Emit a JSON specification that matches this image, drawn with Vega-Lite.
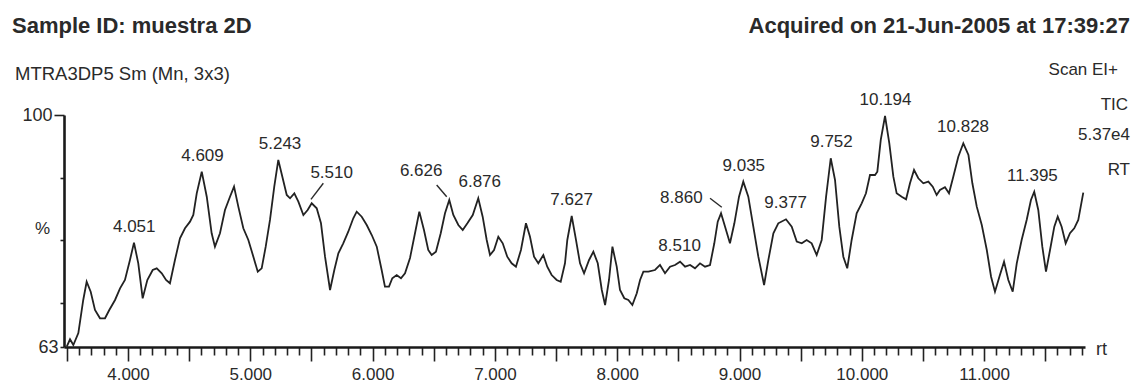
{
  "$schema": "https://vega.github.io/schema/vega-lite/v6.json",
  "width": 1021,
  "height": 232,
  "autosize": "none",
  "padding": {"left": 64, "top": 115, "right": 52, "bottom": 41},
  "background": "#ffffff",
  "config": {
    "view": {"stroke": null},
    "font": "Liberation Sans, Arial, sans-serif",
    "text": {"font": "Liberation Sans, Arial, sans-serif", "color": "#2a2a2a"}
  },
  "datasets": {
    "trace": [
      {"rt": 3.499, "pct": 63.05}, {"rt": 3.526, "pct": 64.23}, {"rt": 3.553, "pct": 63.32}, {"rt": 3.594, "pct": 65.23},
      {"rt": 3.634, "pct": 70.50}, {"rt": 3.662, "pct": 73.41}, {"rt": 3.695, "pct": 71.82}, {"rt": 3.730, "pct": 68.90},
      {"rt": 3.771, "pct": 67.58}, {"rt": 3.812, "pct": 67.58}, {"rt": 3.847, "pct": 68.90}, {"rt": 3.894, "pct": 70.50},
      {"rt": 3.935, "pct": 72.36}, {"rt": 3.975, "pct": 73.69}, {"rt": 4.016, "pct": 76.88}, {"rt": 4.049, "pct": 79.64},
      {"rt": 4.084, "pct": 76.35}, {"rt": 4.120, "pct": 70.77}, {"rt": 4.158, "pct": 73.69}, {"rt": 4.202, "pct": 75.28},
      {"rt": 4.235, "pct": 75.55}, {"rt": 4.276, "pct": 74.76}, {"rt": 4.311, "pct": 73.69}, {"rt": 4.343, "pct": 73.16},
      {"rt": 4.384, "pct": 76.88}, {"rt": 4.425, "pct": 80.34}, {"rt": 4.466, "pct": 81.93}, {"rt": 4.507, "pct": 82.99},
      {"rt": 4.534, "pct": 84.05}, {"rt": 4.562, "pct": 87.51}, {"rt": 4.603, "pct": 90.96}, {"rt": 4.644, "pct": 86.97},
      {"rt": 4.684, "pct": 81.14}, {"rt": 4.711, "pct": 79.00}, {"rt": 4.752, "pct": 81.14}, {"rt": 4.793, "pct": 84.85},
      {"rt": 4.834, "pct": 86.97}, {"rt": 4.867, "pct": 88.57}, {"rt": 4.902, "pct": 85.38}, {"rt": 4.943, "pct": 81.93},
      {"rt": 4.984, "pct": 80.07}, {"rt": 5.025, "pct": 77.40}, {"rt": 5.061, "pct": 75.01}, {"rt": 5.093, "pct": 75.55},
      {"rt": 5.126, "pct": 79.00}, {"rt": 5.161, "pct": 83.26}, {"rt": 5.196, "pct": 88.57}, {"rt": 5.229, "pct": 92.83},
      {"rt": 5.262, "pct": 90.16}, {"rt": 5.298, "pct": 87.24}, {"rt": 5.325, "pct": 86.72}, {"rt": 5.360, "pct": 87.51},
      {"rt": 5.393, "pct": 86.17}, {"rt": 5.434, "pct": 84.05}, {"rt": 5.469, "pct": 84.85}, {"rt": 5.502, "pct": 85.92},
      {"rt": 5.543, "pct": 85.12}, {"rt": 5.578, "pct": 82.73}, {"rt": 5.611, "pct": 77.40}, {"rt": 5.652, "pct": 72.09},
      {"rt": 5.687, "pct": 75.28}, {"rt": 5.720, "pct": 77.94}, {"rt": 5.760, "pct": 79.54}, {"rt": 5.801, "pct": 81.39},
      {"rt": 5.842, "pct": 83.53}, {"rt": 5.870, "pct": 84.58}, {"rt": 5.911, "pct": 83.78}, {"rt": 5.952, "pct": 82.46},
      {"rt": 5.993, "pct": 80.86}, {"rt": 6.034, "pct": 79.00}, {"rt": 6.074, "pct": 75.28}, {"rt": 6.101, "pct": 72.62},
      {"rt": 6.134, "pct": 72.62}, {"rt": 6.161, "pct": 73.96}, {"rt": 6.197, "pct": 74.48}, {"rt": 6.232, "pct": 73.96},
      {"rt": 6.265, "pct": 74.76}, {"rt": 6.306, "pct": 77.20}, {"rt": 6.347, "pct": 81.18}, {"rt": 6.382, "pct": 84.58},
      {"rt": 6.420, "pct": 81.66}, {"rt": 6.455, "pct": 78.47}, {"rt": 6.483, "pct": 77.67}, {"rt": 6.518, "pct": 78.20},
      {"rt": 6.557, "pct": 81.14}, {"rt": 6.592, "pct": 84.32}, {"rt": 6.627, "pct": 86.45}, {"rt": 6.660, "pct": 84.05},
      {"rt": 6.701, "pct": 82.46}, {"rt": 6.737, "pct": 81.66}, {"rt": 6.775, "pct": 82.73}, {"rt": 6.819, "pct": 84.05},
      {"rt": 6.864, "pct": 86.72}, {"rt": 6.900, "pct": 83.78}, {"rt": 6.933, "pct": 80.07}, {"rt": 6.960, "pct": 77.67},
      {"rt": 6.993, "pct": 78.47}, {"rt": 7.028, "pct": 80.59}, {"rt": 7.064, "pct": 79.54}, {"rt": 7.101, "pct": 77.40},
      {"rt": 7.137, "pct": 76.35}, {"rt": 7.172, "pct": 75.81}, {"rt": 7.213, "pct": 78.47}, {"rt": 7.254, "pct": 82.73},
      {"rt": 7.287, "pct": 80.59}, {"rt": 7.320, "pct": 77.40}, {"rt": 7.355, "pct": 76.35}, {"rt": 7.396, "pct": 77.67},
      {"rt": 7.428, "pct": 75.81}, {"rt": 7.464, "pct": 74.48}, {"rt": 7.505, "pct": 73.69}, {"rt": 7.538, "pct": 73.41},
      {"rt": 7.573, "pct": 76.35}, {"rt": 7.592, "pct": 80.07}, {"rt": 7.628, "pct": 83.89}, {"rt": 7.663, "pct": 80.07},
      {"rt": 7.696, "pct": 76.35}, {"rt": 7.729, "pct": 74.76}, {"rt": 7.770, "pct": 76.88}, {"rt": 7.805, "pct": 78.20},
      {"rt": 7.841, "pct": 76.35}, {"rt": 7.874, "pct": 72.09}, {"rt": 7.901, "pct": 69.70}, {"rt": 7.933, "pct": 73.69},
      {"rt": 7.961, "pct": 79.00}, {"rt": 7.996, "pct": 75.81}, {"rt": 8.023, "pct": 72.09}, {"rt": 8.058, "pct": 70.77},
      {"rt": 8.091, "pct": 70.50}, {"rt": 8.124, "pct": 69.70}, {"rt": 8.160, "pct": 71.57}, {"rt": 8.187, "pct": 73.69},
      {"rt": 8.214, "pct": 75.01}, {"rt": 8.255, "pct": 75.01}, {"rt": 8.309, "pct": 75.28}, {"rt": 8.350, "pct": 76.08},
      {"rt": 8.391, "pct": 74.76}, {"rt": 8.432, "pct": 75.81}, {"rt": 8.473, "pct": 76.08}, {"rt": 8.514, "pct": 76.61},
      {"rt": 8.555, "pct": 75.81}, {"rt": 8.596, "pct": 76.08}, {"rt": 8.636, "pct": 75.55}, {"rt": 8.677, "pct": 76.35},
      {"rt": 8.718, "pct": 75.81}, {"rt": 8.759, "pct": 76.08}, {"rt": 8.794, "pct": 79.54}, {"rt": 8.822, "pct": 82.99},
      {"rt": 8.849, "pct": 84.32}, {"rt": 8.882, "pct": 82.19}, {"rt": 8.922, "pct": 79.54}, {"rt": 8.958, "pct": 82.73},
      {"rt": 8.996, "pct": 86.97}, {"rt": 9.031, "pct": 89.37}, {"rt": 9.072, "pct": 86.97}, {"rt": 9.113, "pct": 82.19},
      {"rt": 9.154, "pct": 77.40}, {"rt": 9.201, "pct": 72.89}, {"rt": 9.236, "pct": 76.88}, {"rt": 9.277, "pct": 81.14},
      {"rt": 9.317, "pct": 82.73}, {"rt": 9.380, "pct": 83.37}, {"rt": 9.427, "pct": 82.19}, {"rt": 9.468, "pct": 79.80},
      {"rt": 9.509, "pct": 79.54}, {"rt": 9.549, "pct": 80.07}, {"rt": 9.590, "pct": 79.54}, {"rt": 9.631, "pct": 77.67},
      {"rt": 9.672, "pct": 80.07}, {"rt": 9.708, "pct": 86.97}, {"rt": 9.746, "pct": 93.10}, {"rt": 9.781, "pct": 89.64},
      {"rt": 9.816, "pct": 82.19}, {"rt": 9.849, "pct": 77.40}, {"rt": 9.881, "pct": 75.55}, {"rt": 9.917, "pct": 80.07},
      {"rt": 9.958, "pct": 84.32}, {"rt": 9.999, "pct": 85.92}, {"rt": 10.034, "pct": 87.51}, {"rt": 10.067, "pct": 90.43},
      {"rt": 10.108, "pct": 90.43}, {"rt": 10.127, "pct": 90.96}, {"rt": 10.155, "pct": 96.02}, {"rt": 10.190, "pct": 99.84},
      {"rt": 10.225, "pct": 95.49}, {"rt": 10.258, "pct": 90.16}, {"rt": 10.285, "pct": 87.51}, {"rt": 10.326, "pct": 86.97},
      {"rt": 10.362, "pct": 86.56}, {"rt": 10.394, "pct": 89.11}, {"rt": 10.427, "pct": 91.23}, {"rt": 10.462, "pct": 89.91},
      {"rt": 10.503, "pct": 89.11}, {"rt": 10.544, "pct": 89.37}, {"rt": 10.580, "pct": 88.57}, {"rt": 10.612, "pct": 87.24},
      {"rt": 10.639, "pct": 88.04}, {"rt": 10.680, "pct": 88.47}, {"rt": 10.713, "pct": 87.51}, {"rt": 10.748, "pct": 90.16},
      {"rt": 10.789, "pct": 93.35}, {"rt": 10.830, "pct": 95.49}, {"rt": 10.872, "pct": 93.62}, {"rt": 10.904, "pct": 89.11},
      {"rt": 10.940, "pct": 85.38}, {"rt": 10.981, "pct": 82.46}, {"rt": 11.022, "pct": 78.47}, {"rt": 11.057, "pct": 74.21},
      {"rt": 11.089, "pct": 71.82}, {"rt": 11.125, "pct": 74.21}, {"rt": 11.163, "pct": 76.61}, {"rt": 11.198, "pct": 73.69},
      {"rt": 11.234, "pct": 71.82}, {"rt": 11.267, "pct": 76.35}, {"rt": 11.307, "pct": 80.07}, {"rt": 11.348, "pct": 83.26},
      {"rt": 11.383, "pct": 86.45}, {"rt": 11.410, "pct": 87.77}, {"rt": 11.443, "pct": 84.85}, {"rt": 11.476, "pct": 79.00},
      {"rt": 11.506, "pct": 75.01}, {"rt": 11.539, "pct": 78.47}, {"rt": 11.574, "pct": 82.19}, {"rt": 11.602, "pct": 83.78},
      {"rt": 11.634, "pct": 82.19}, {"rt": 11.667, "pct": 79.54}, {"rt": 11.702, "pct": 81.14}, {"rt": 11.737, "pct": 81.93},
      {"rt": 11.770, "pct": 83.26}, {"rt": 11.811, "pct": 87.61}
    ],
    "peaks": [
      {"rt": 4.051, "pct": 79.64, "label": "4.051"},
      {"rt": 4.609, "pct": 90.96, "label": "4.609"},
      {"rt": 5.243, "pct": 92.83, "label": "5.243"},
      {"rt": 5.510, "pct": 85.92, "label": "5.510"},
      {"rt": 6.626, "pct": 86.45, "label": "6.626"},
      {"rt": 6.876, "pct": 86.72, "label": "6.876"},
      {"rt": 7.627, "pct": 83.89, "label": "7.627"},
      {"rt": 8.510, "pct": 76.61, "label": "8.510"},
      {"rt": 8.860, "pct": 84.32, "label": "8.860"},
      {"rt": 9.035, "pct": 89.37, "label": "9.035"},
      {"rt": 9.377, "pct": 83.37, "label": "9.377"},
      {"rt": 9.752, "pct": 93.10, "label": "9.752"},
      {"rt": 10.194, "pct": 99.84, "label": "10.194"},
      {"rt": 10.828, "pct": 95.49, "label": "10.828"},
      {"rt": 11.395, "pct": 87.77, "label": "11.395"}
    ],
    "leaders": [
      {"rt": 5.496, "pct": 86.55, "rt2": 5.597, "pct2": 89.11},
      {"rt": 6.524, "pct": 88.84, "rt2": 6.606, "pct2": 86.97},
      {"rt": 8.759, "pct": 86.72, "rt2": 8.855, "pct2": 85.28}
    ]
  },
  "layer": [
    {
      "data": {"name": "trace"},
      "mark": {"type": "line", "color": "#222222", "strokeWidth": 1.8, "clip": true},
      "encoding": {
        "x": {
          "field": "rt", "type": "quantitative",
          "scale": {"domain": [3.4767, 11.825], "nice": false, "zero": false},
          "axis": {
            "values": [3.5,3.6,3.7,3.8,3.9,4,4.1,4.2,4.3,4.4,4.5,4.6,4.7,4.8,4.9,5,5.1,5.2,5.3,5.4,5.5,5.6,5.7,5.8,5.9,6,6.1,6.2,6.3,6.4,6.5,6.6,6.7,6.8,6.9,7,7.1,7.2,7.3,7.4,7.5,7.6,7.7,7.8,7.9,8,8.1,8.2,8.3,8.4,8.5,8.6,8.7,8.8,8.9,9,9.1,9.2,9.3,9.4,9.5,9.6,9.7,9.8,9.9,10,10.1,10.2,10.3,10.4,10.5,10.6,10.7,10.8,10.9,11,11.1,11.2,11.3,11.4,11.5,11.6,11.7,11.8],
            "tickCount": 500,
            "labelExpr": "abs(datum.value - round(datum.value)) < 0.001 ? format(datum.value, '.3f') : ''",
            "tickSize": 14,
            "tickDash": {"condition": {"test": "abs(datum.value * 2 - round(datum.value * 2)) < 0.01", "value": [30, 0]}, "value": [8, 40]},
            "tickWidth": 1.6,
            "tickColor": "#222",
            "domainColor": "#1a1a1a",
            "domainWidth": 2.6,
            "grid": false,
            "labelOverlap": false,
            "labelFlush": false,
            "labelFontSize": 17,
            "labelColor": "#2a2a2a",
            "labelPadding": 5,
            "title": "rt",
            "titleFontSize": 18,
            "titleFontWeight": "normal",
            "titleColor": "#2a2a2a",
            "titleAlign": "center",
            "titleBaseline": "middle",
            "titleX": 1037,
            "titleY": 2
          }
        },
        "y": {
          "field": "pct", "type": "quantitative",
          "scale": {"domain": [63, 100], "nice": false, "zero": false},
          "axis": {
            "values": [63, 70, 80, 90, 100],
            "tickCount": 50,
            "labelExpr": "datum.value == 63 || datum.value == 100 ? datum.label : ''",
            "tickSize": {"condition": {"test": "datum.value == 100", "value": 10}, "value": 4},
            "tickWidth": 1.6,
            "tickColor": "#222",
            "domainColor": "#1a1a1a",
            "domainWidth": 2.6,
            "grid": false,
            "labelOverlap": false,
            "labelFlush": false,
            "labelFontSize": 18,
            "labelColor": "#2a2a2a",
            "labelPadding": 2,
            "title": "%",
            "titleAngle": 0,
            "titleFontSize": 17,
            "titleFontWeight": "normal",
            "titleColor": "#2a2a2a",
            "titleAlign": "center",
            "titleBaseline": "middle",
            "titleX": -22,
            "titleY": 113
          }
        }
      }
    },
    {
      "data": {"name": "peaks"},
      "transform": [{"filter": "datum.label != '5.510' && datum.label != '6.626' && datum.label != '8.860'"}],
      "mark": {"type": "text", "fontSize": 17, "align": "center", "baseline": "alphabetic", "dy": -11},
      "encoding": {
        "x": {"field": "rt", "type": "quantitative"},
        "y": {"field": "pct", "type": "quantitative"},
        "text": {"field": "label"}
      }
    },
    {
      "data": {"name": "peaks"},
      "transform": [{"filter": "datum.label == '5.510'"}],
      "mark": {"type": "text", "fontSize": 17, "align": "center", "baseline": "alphabetic", "dx": 19, "dy": -25},
      "encoding": {
        "x": {"field": "rt", "type": "quantitative"},
        "y": {"field": "pct", "type": "quantitative"},
        "text": {"field": "label"}
      }
    },
    {
      "data": {"name": "peaks"},
      "transform": [{"filter": "datum.label == '6.626'"}],
      "mark": {"type": "text", "fontSize": 17, "align": "center", "baseline": "alphabetic", "dx": -28, "dy": -24},
      "encoding": {
        "x": {"field": "rt", "type": "quantitative"},
        "y": {"field": "pct", "type": "quantitative"},
        "text": {"field": "label"}
      }
    },
    {
      "data": {"name": "peaks"},
      "transform": [{"filter": "datum.label == '8.860'"}],
      "mark": {"type": "text", "fontSize": 17, "align": "center", "baseline": "alphabetic", "dx": -41, "dy": -10},
      "encoding": {
        "x": {"field": "rt", "type": "quantitative"},
        "y": {"field": "pct", "type": "quantitative"},
        "text": {"field": "label"}
      }
    },
    {
      "data": {"name": "leaders"},
      "mark": {"type": "rule", "color": "#2a2a2a", "strokeWidth": 1.4},
      "encoding": {
        "x": {"field": "rt", "type": "quantitative"},
        "y": {"field": "pct", "type": "quantitative"},
        "x2": {"field": "rt2"},
        "y2": {"field": "pct2"}
      }
    },
    {
      "data": {"values": [{"t": "Sample ID: muestra 2D"}]},
      "mark": {"type": "text", "fontSize": 22, "fontWeight": "bold", "align": "left", "baseline": "alphabetic"},
      "encoding": {"x": {"datum": 3.0515, "type": "quantitative"}, "y": {"datum": 113.08, "type": "quantitative"}, "text": {"field": "t"}}
    },
    {
      "data": {"values": [{"t": "MTRA3DP5 Sm (Mn, 3x3)"}]},
      "mark": {"type": "text", "fontSize": 18.5, "align": "left", "baseline": "alphabetic"},
      "encoding": {"x": {"datum": 3.076, "type": "quantitative"}, "y": {"datum": 105.58, "type": "quantitative"}, "text": {"field": "t"}}
    },
    {
      "data": {"values": [{"t": "Acquired on 21-Jun-2005 at 17:39:27"}]},
      "mark": {"type": "text", "fontSize": 22, "fontWeight": "bold", "align": "right", "baseline": "alphabetic"},
      "encoding": {"x": {"datum": 12.193, "type": "quantitative"}, "y": {"datum": 113.03, "type": "quantitative"}, "text": {"field": "t"}}
    },
    {
      "data": {"values": [{"t": "Scan EI+"}]},
      "mark": {"type": "text", "fontSize": 17, "align": "right", "baseline": "alphabetic"},
      "encoding": {"x": {"datum": 12.095, "type": "quantitative"}, "y": {"datum": 106.38, "type": "quantitative"}, "text": {"field": "t"}}
    },
    {
      "data": {"values": [{"t": "TIC"}]},
      "mark": {"type": "text", "fontSize": 17, "align": "right", "baseline": "alphabetic"},
      "encoding": {"x": {"datum": 12.177, "type": "quantitative"}, "y": {"datum": 100.8, "type": "quantitative"}, "text": {"field": "t"}}
    },
    {
      "data": {"values": [{"t": "5.37e4"}]},
      "mark": {"type": "text", "fontSize": 17, "align": "right", "baseline": "alphabetic"},
      "encoding": {"x": {"datum": 12.193, "type": "quantitative"}, "y": {"datum": 96.01, "type": "quantitative"}, "text": {"field": "t"}}
    },
    {
      "data": {"values": [{"t": "RT"}]},
      "mark": {"type": "text", "fontSize": 17, "align": "right", "baseline": "alphabetic"},
      "encoding": {"x": {"datum": 12.193, "type": "quantitative"}, "y": {"datum": 90.43, "type": "quantitative"}, "text": {"field": "t"}}
    }
  ]
}
